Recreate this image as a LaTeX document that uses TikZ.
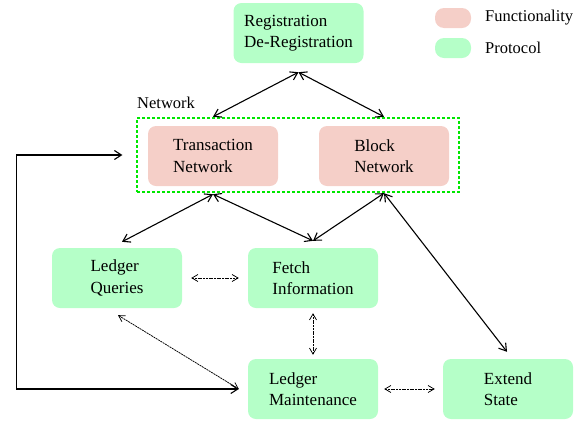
\documentclass[tikz,border=0pt]{standalone}
\usepackage{fontspec}
\setmainfont{Liberation Serif}
\usetikzlibrary{arrows.meta,calc}
\definecolor{funcpink}{HTML}{F5CFC8}
\definecolor{protgreen}{HTML}{B5FFC8}
\definecolor{netgreen}{HTML}{00E600}
\begin{document}
\begin{tikzpicture}[x=1pt,y=-1pt,
  boxtext/.style={font=\fontsize{17}{21.5}\selectfont, align=left},
  func/.style={boxtext, fill=funcpink, rounded corners=8pt, minimum width=130pt, minimum height=60pt, inner sep=0pt},
  prot/.style={boxtext, fill=protgreen, rounded corners=8pt, minimum width=130pt, minimum height=60pt, inner sep=0pt},
  pill/.style={rounded corners=9pt, minimum width=36pt, minimum height=20pt, inner sep=0pt},
  lbl/.style={font=\fontsize{16.5}{20}\selectfont, anchor=west, inner sep=0pt},
  solidarr/.style={{Straight Barb[length=7pt,width=9pt]}-{Straight Barb[length=7pt,width=9pt]}, line width=1.1pt},
  thinarr/.style={{Straight Barb[length=6pt,width=7pt]}-{Straight Barb[length=6pt,width=7pt]}, line width=0.75pt, dash pattern=on 2pt off 0.7pt}
]
\useasboundingbox (0,0) rectangle (586,421);
% network box
\node[draw=netgreen, line width=1.2pt, dash pattern=on 3pt off 2pt, minimum width=322pt, minimum height=74pt, inner sep=0pt] (net) at (298,155) {};
\node[lbl] (netlbl) at (137,103) {Network};
\node[func] (trans) at (213,156) {Transaction\\Network};
\node[func] (blk) at (384,156) {Block\\Network};
\node[prot] (reg) at (298.5,33) {Registration\\De-Registration};
\node[prot] (lq) at (117,278) {Ledger\\Queries};
\node[prot] (fetch) at (313,278) {Fetch\\Information};
\node[prot] (maint) at (313,389) {Ledger\\Maintenance};
\node[prot] (ext) at (508,389) {Extend\\State};
% legend
\node[pill, fill=funcpink] (lgf) at (453,18) {};
\node[lbl] (lgft) at (485,18) {Functionality};
\node[pill, fill=protgreen] (lgp) at (453,48) {};
\node[lbl] (lgpt) at (485,48) {Protocol};
% connectors
\coordinate (regb) at ($(reg.south)+(0,9)$);
\coordinate (transb) at ($(trans.south)+(0,8)$);
\coordinate (blkb) at ($(blk.south)+(0,7)$);
\coordinate (fetcht) at ($(fetch.north)+(0,-7)$);
\coordinate (maintw) at ($(maint.west)+(-9,0)$);
\draw[solidarr] (regb) -- ($(trans.north)+(0,-9)$);
\draw[solidarr] (regb) -- ($(blk.north)+(0,-9)$);
\draw[solidarr] (transb) -- ($(lq.north)+(5,-6)$);
\draw[solidarr] (transb) -- (fetcht);
\draw[solidarr] (blkb) -- (fetcht);
\draw[solidarr] (blkb) -- ($(ext.north)+(-1,-7)$);
\draw[solidarr] ($(net.west)+(-14,0)$) -- ++(-106,0) |- (maintw);
\draw[thinarr] ($(lq.east)+(9,0)$) -- ($(fetch.west)+(-9,0)$);
\draw[thinarr] ($(fetch.south)+(0,5)$) -- ($(maint.north)+(0,-4)$);
\draw[thinarr] ($(lq.south)+(1,7)$) -- (maintw);
\draw[thinarr] ($(maint.east)+(6,0)$) -- ($(ext.west)+(-8,0)$);
\end{tikzpicture}
\end{document}
